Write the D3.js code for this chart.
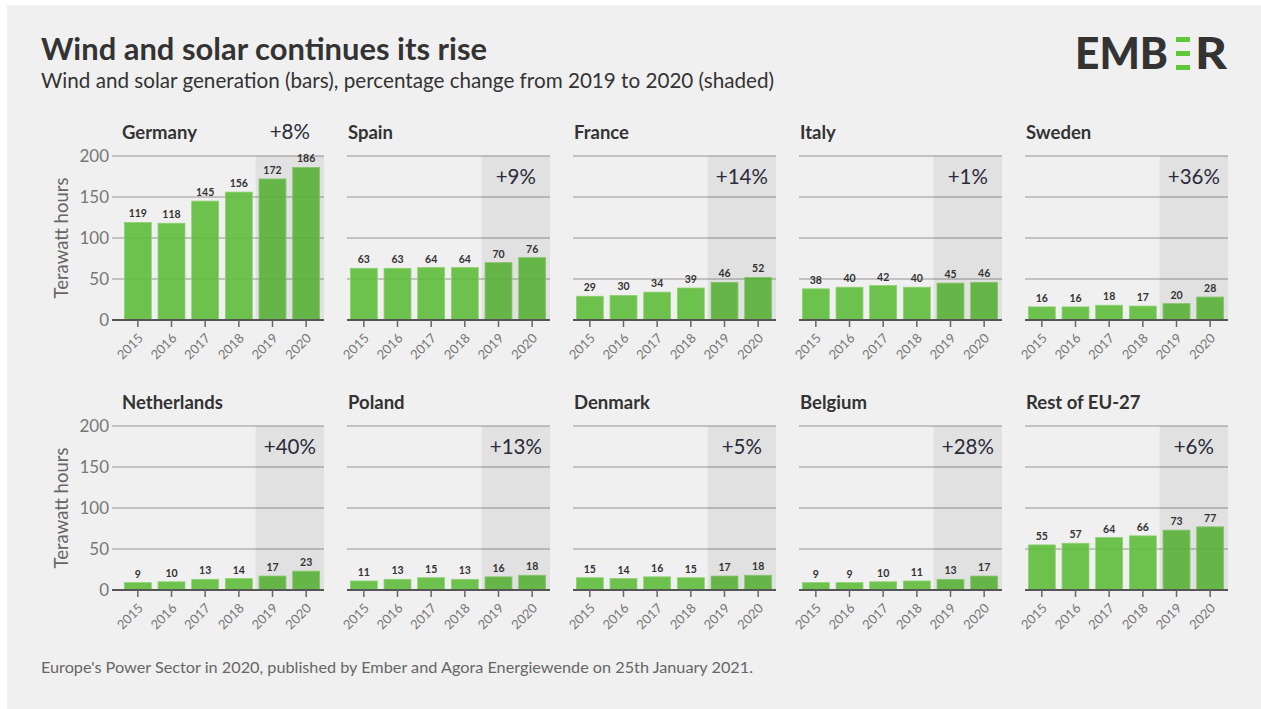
<!DOCTYPE html>
<html>
<head>
<meta charset="utf-8">
<script src="https://cdn.jsdelivr.net/npm/d3@7"></script>
<style>
  html, body { margin: 0; padding: 0; background: #ffffff; }
  svg { display: block; }
  text { font-family: "Lato", "Open Sans", sans-serif; }
</style>
</head>
<body>
<svg id="chart" width="1261" height="709"></svg>
<script>
// Wind and solar generation per country, TWh, 2015–2020
const years = ["2015", "2016", "2017", "2018", "2019", "2020"];
const countries = ["Germany", "Spain", "France", "Italy", "Sweden",
                   "Netherlands", "Poland", "Denmark", "Belgium", "Rest of EU-27"];
const germany     = [119, 118, 145, 156, 172, 186];
const spain       = [63, 63, 64, 64, 70, 76];
const france      = [29, 30, 34, 39, 46, 52];
const italy       = [38, 40, 42, 40, 45, 46];
const sweden      = [16, 16, 18, 17, 20, 28];
const netherlands = [9, 10, 13, 14, 17, 23];
const poland      = [11, 13, 15, 13, 16, 18];
const denmark     = [15, 14, 16, 15, 17, 18];
const belgium     = [9, 9, 10, 11, 13, 17];
const restOfEU    = [55, 57, 64, 66, 73, 77];
const seriesValues = [germany, spain, france, italy, sweden,
                      netherlands, poland, denmark, belgium, restOfEU];
// change from 2019 to 2020
const changeLabels = ["+8%", "+9%", "+14%", "+1%", "+36%", "+40%", "+13%", "+5%", "+28%", "+6%"];
const yTicks = [0, 50, 100, 150, 200];
const shadedYears = ["2019", "2020"];

const svg = d3.select("#chart");

// card background
svg.append("rect").attr("x", 7).attr("y", 5).attr("width", 1254).attr("height", 704)
  .attr("fill", "#f0f0f0");

// heading
svg.append("text").attr("x", 41).attr("y", 60)
  .attr("font-size", 30).attr("font-weight", 700).attr("fill", "#333")
  .attr("textLength", 446).attr("lengthAdjust", "spacingAndGlyphs")
  .text("Wind and solar continues its rise");
svg.append("text").attr("x", 41).attr("y", 88)
  .attr("font-size", 20.6).attr("fill", "#333")
  .attr("textLength", 733).attr("lengthAdjust", "spacingAndGlyphs")
  .text("Wind and solar generation (bars), percentage change from 2019 to 2020 (shaded)");

// logo
const logo = svg.append("g");
logo.append("text").attr("x", 1075).attr("y", 69)
  .attr("font-size", 44).attr("font-weight", 900).attr("fill", "#333")
  .attr("textLength", 93).attr("lengthAdjust", "spacingAndGlyphs")
  .text("EMB");
[37, 51, 65].forEach(yy => {
  logo.append("rect").attr("x", 1176).attr("y", yy).attr("width", 14).attr("height", 5)
    .attr("fill", "#5cc83a");
});
logo.append("text").attr("x", 1195).attr("y", 69)
  .attr("font-size", 44).attr("font-weight", 900).attr("fill", "#333")
  .attr("textLength", 32).attr("lengthAdjust", "spacingAndGlyphs")
  .text("R");

// footer
svg.append("text").attr("x", 41).attr("y", 673)
  .attr("font-size", 16.2).attr("fill", "#666")
  .attr("textLength", 712).attr("lengthAdjust", "spacingAndGlyphs")
  .text("Europe's Power Sector in 2020, published by Ember and Agora Energiewende on 25th January 2021.");

// small multiples
const panelW = 202, colStep = 226, rowStep = 270;
const left0 = 121, top0 = 156, plotH = 164;

countries.forEach((name, i) => {
  const col = i % 5, row = Math.floor(i / 5);
  const x0 = left0 + col * colStep;
  const yTop = top0 + row * rowStep;
  const values = seriesValues[i];

  const x = d3.scaleBand().domain(years).range([x0, x0 + panelW])
    .paddingInner(0.2).paddingOuter(0.1);
  const y = d3.scaleLinear().domain([0, 200]).range([yTop + plotH, yTop]);

  const g = svg.append("g");
  const gridLeft = col === 0 ? x0 - 9 : x0;

  // gridlines
  g.selectAll("line.grid").data(yTicks.filter(t => t > 0)).join("line")
    .attr("x1", gridLeft).attr("x2", x0 + panelW + 1)
    .attr("y1", d => y(d)).attr("y2", d => y(d))
    .attr("stroke", "#b3b3b3").attr("stroke-width", 1.6);

  // bars
  g.selectAll("rect.bar").data(values).join("rect")
    .attr("x", (d, k) => x(years[k]))
    .attr("y", d => y(d))
    .attr("width", x.bandwidth())
    .attr("height", d => y(0) - y(d))
    .attr("fill", "#62bd3f").attr("fill-opacity", 0.92)
    .attr("stroke", "#8fd271").attr("stroke-width", 0.8);

  // shaded change period, drawn over the bars
  const shadeX = x(shadedYears[0]) - x.step() * x.paddingInner() / 2;
  g.append("rect").attr("x", shadeX).attr("y", yTop)
    .attr("width", x0 + panelW + 1 - shadeX).attr("height", plotH)
    .attr("fill", "#000").attr("fill-opacity", 0.058);

  // bar value labels
  g.selectAll("text.val").data(values).join("text")
    .attr("x", (d, k) => x(years[k]) + x.bandwidth() / 2)
    .attr("y", d => y(d) - 5)
    .attr("text-anchor", "middle").attr("font-size", 10.5).attr("font-weight", 700)
    .attr("fill", "#333").text(d => d);

  // baseline
  g.append("line").attr("x1", gridLeft).attr("x2", x0 + panelW + 1)
    .attr("y1", y(0)).attr("y2", y(0))
    .attr("stroke", "#555").attr("stroke-width", 2);

  // x axis ticks and rotated year labels
  const xa = g.append("g");
  years.forEach(yr => {
    const cx = x(yr) + x.bandwidth() / 2;
    xa.append("line").attr("x1", cx).attr("x2", cx)
      .attr("y1", y(0)).attr("y2", y(0) + 7)
      .attr("stroke", "#666").attr("stroke-width", 1.5);
    xa.append("text")
      .attr("transform", `translate(${cx + 6},${y(0) + 19}) rotate(-45)`)
      .attr("text-anchor", "end").attr("font-size", 13).attr("fill", "#777")
      .text(yr);
  });

  // y axis on first column
  if (col === 0) {
    yTicks.forEach(t => {
      g.append("text").attr("x", x0 - 12).attr("y", y(t)).attr("dy", "0.35em")
        .attr("text-anchor", "end").attr("font-size", 17).attr("fill", "#777")
        .text(t);
    });
    g.append("text")
      .attr("transform", `translate(${x0 - 53},${yTop + plotH / 2}) rotate(-90)`)
      .attr("text-anchor", "middle").attr("font-size", 18.5).attr("fill", "#666")
      .text("Terawatt hours");
  }

  // panel title
  g.append("text").attr("x", x0 + 1).attr("y", yTop - 17)
    .attr("font-size", 18.5).attr("font-weight", 700).attr("fill", "#333")
    .text(name);

  // percentage change label, lifted above tall bars
  const labelY = Math.min(y(174), y(d3.max(values)) - 36);
  g.append("text")
    .attr("x", shadeX + (x0 + panelW + 1 - shadeX) / 2)
    .attr("y", labelY).attr("dy", "0.35em")
    .attr("text-anchor", "middle").attr("font-size", 20.5).attr("fill", "#2a2a3a")
    .text(changeLabels[i]);
});
</script>
</body>
</html>
